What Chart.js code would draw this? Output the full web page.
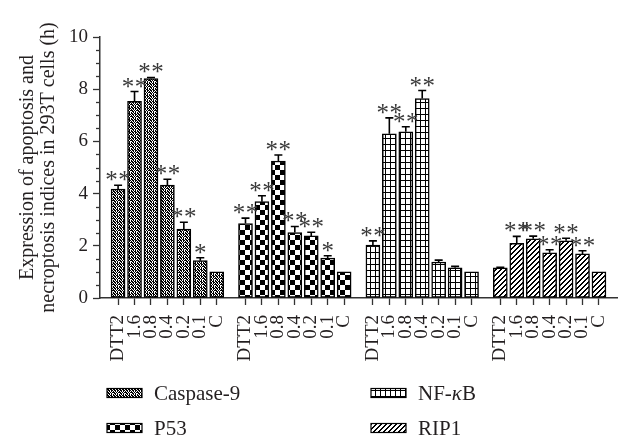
<!DOCTYPE html>
<html>
<head>
<meta charset="utf-8">
<script src="https://cdn.jsdelivr.net/npm/chart.js@4/dist/chart.umd.min.js"></script>
<style>
  html, body { margin: 0; padding: 0; background: #fff; }
  #c { display: block; }
</style>
</head>
<body>
<canvas id="c" width="632" height="436"></canvas>
<script>
// ---- data ----
const categories = ['DTT2', '1.6', '0.8', '0.4', '0.2', '0.1', 'C'];
const seriesNames = ['Caspase-9', 'P53', 'NF-κB', 'RIP1'];

const caspase9    = [4.17, 7.54, 8.41, 4.33, 2.64, 1.43, 1.00];
const caspase9Err = [0.15, 0.37, 0.04, 0.22, 0.26, 0.11, 0];
const caspase9Sig = ['**', '**', '**', '**', '**', '*', ''];

const p53    = [2.85, 3.69, 5.25, 2.51, 2.38, 1.53, 1.00];
const p53Err = [0.21, 0.23, 0.23, 0.23, 0.14, 0.09, 0];
const p53Sig = ['**', '**', '**', '**', '**', '*', ''];

const nfkb    = [2.03, 6.29, 6.37, 7.64, 1.38, 1.16, 1.00];
const nfkbErr = [0.16, 0.61, 0.19, 0.31, 0.07, 0.05, 0];
const nfkbSig = ['**', '**', '**', '**', '', '', ''];

const rip1    = [1.16, 2.09, 2.27, 1.73, 2.19, 1.69, 1.00];
const rip1Err = [0.02, 0.27, 0.10, 0.12, 0.10, 0.12, 0];
const rip1Sig = ['', '**', '**', '**', '**', '**', ''];

const yTicks = [0, 2, 4, 6, 8, 10];

// ---- layout helpers ----
const GROUP_STRIDE = 7.75;
const pos = (g, i) => g * GROUP_STRIDE + i;
const allPositions = [];
for (let g = 0; g < 4; g++) for (let i = 0; i < categories.length; i++) allPositions.push(pos(g, i));

// ---- patterns ----
function makePattern(w, h, draw) {
  const c = document.createElement('canvas');
  c.width = w; c.height = h;
  const x = c.getContext('2d');
  x.fillStyle = '#fff'; x.fillRect(0, 0, w, h);
  x.fillStyle = '#000';
  draw(x);
  return x.createPattern(c, 'repeat');
}
const patCaspase = makePattern(6, 6, x => {
  const m = [
    '##.##.',
    '.#.#.#',
    '#.#.##',
    '##.#..',
    '.#.#.#',
    '#.##.#'];
  m.forEach((row, r) => [...row].forEach((ch, col) => { if (ch === '#') x.fillRect(col, r, 1, 1); }));
});
const patP53 = makePattern(10, 10, x => {
  x.fillRect(0, 0, 5, 5); x.fillRect(5, 5, 5, 5);
});
const patNF = makePattern(5, 6, x => {
  x.fillRect(0, 0, 5, 1); x.fillRect(0, 0, 1, 6);
});
const patRIP = makePattern(5, 5, x => {
  for (let i = 0; i < 5; i++) { x.fillRect(i, 4 - i, 1, 1); x.fillRect(i, (5 - i) % 5, 1, 1); }
});

const seriesValues = [caspase9, p53, nfkb, rip1];
const seriesErr = [caspase9Err, p53Err, nfkbErr, rip1Err];
const seriesSig = [caspase9Sig, p53Sig, nfkbSig, rip1Sig];
const patterns = [patCaspase, patP53, patNF, patRIP];

const datasets = seriesNames.map((name, g) => ({
  label: name,
  data: seriesValues[g].map((v, i) => ({ x: pos(g, i), y: v })),
  errors: seriesErr[g],
  sig: seriesSig[g],
  backgroundColor: patterns[g],
  borderColor: '#000',
  borderWidth: 1.5,
  borderSkipped: false,
  grouped: false,
  barPercentage: 1,
  categoryPercentage: 1,
  maxBarThickness: 14
}));

const TEXT = '#231f20';
const AXIS = '#333';
const SERIF = '"Liberation Serif", "DejaVu Serif", serif';

// ---- plugins ----
const minorTicks = {
  id: 'minorTicks',
  afterDraw(chart) {
    const y = chart.scales.y, ctx = chart.ctx;
    const x0 = chart.chartArea.left;
    ctx.save();
    ctx.strokeStyle = AXIS; ctx.lineWidth = 1.3;
    for (let v = 0.5; v < 10; v += 0.5) {
      if (Math.abs(v % 2) < 1e-9) continue;
      const py = Math.round(y.getPixelForValue(v)) + 0.5;
      ctx.beginPath(); ctx.moveTo(x0 - 4, py); ctx.lineTo(x0, py); ctx.stroke();
    }
    ctx.restore();
  }
};

const errorBars = {
  id: 'errorBars',
  afterDatasetsDraw(chart) {
    const ctx = chart.ctx, yS = chart.scales.y;
    ctx.save();
    ctx.font = '25px ' + SERIF;
    const m = ctx.measureText('*');
    const asc = m.actualBoundingBoxAscent, desc = m.actualBoundingBoxDescent;
    chart.data.datasets.forEach((ds, di) => {
      const meta = chart.getDatasetMeta(di);
      meta.data.forEach((bar, i) => {
        const v = ds.data[i].y, e = ds.errors[i];
        let top = bar.y;
        if (e > 0) {
          top = yS.getPixelForValue(v + e);
          ctx.strokeStyle = '#000'; ctx.lineWidth = 1.6;
          ctx.beginPath();
          ctx.moveTo(bar.x, bar.y); ctx.lineTo(bar.x, top);
          ctx.moveTo(bar.x - 4, top); ctx.lineTo(bar.x + 4, top);
          ctx.stroke();
        }
        const s = ds.sig[i];
        if (s) {
          const cy = top - 9;
          const base = cy + (asc - desc) / 2;
          ctx.fillStyle = '#3a3a3a';
          ctx.textAlign = 'center';
          ctx.textBaseline = 'alphabetic';
          if (s.length === 2) {
            ctx.fillText('*', bar.x - 6.5, base);
            ctx.fillText('*', bar.x + 6.5, base);
          } else {
            ctx.fillText('*', bar.x, base);
          }
        }
      });
    });
    ctx.restore();
  }
};

const customLegend = {
  id: 'customLegend',
  afterDraw(chart) {
    const ctx = chart.ctx;
    const colX = [107, 371];
    const rowY = [393, 428];
    ctx.save();
    chart.data.datasets.forEach((ds, i) => {
      const col = Math.floor(i / 2), row = i % 2;
      const x = colX[col], cy = rowY[row];
      ctx.fillStyle = ds.backgroundColor;
      ctx.fillRect(x, cy - 4.5, 35, 9);
      ctx.strokeStyle = '#000'; ctx.lineWidth = 1.2;
      ctx.strokeRect(x, cy - 4.5, 35, 9);
      ctx.fillStyle = TEXT;
      ctx.textBaseline = 'middle';
      ctx.textAlign = 'left';
      let tx = x + 47;
      for (const ch of ds.label) {
        ctx.font = (ch === 'κ' ? 'italic ' : '') + '21px ' + SERIF;
        ctx.fillText(ch, tx, cy + 1);
        tx += ctx.measureText(ch).width;
      }
    });
    ctx.restore();
  }
};

new Chart(document.getElementById('c'), {
  type: 'bar',
  data: { datasets },
  options: {
    responsive: false,
    animation: false,
    events: [],
    layout: { padding: { left: 0, right: 7, top: 37, bottom: 63 } },
    plugins: { legend: { display: false }, tooltip: { enabled: false } },
    scales: {
      x: {
        type: 'linear',
        offset: false,
        min: -1.1,
        max: 3 * GROUP_STRIDE + 6 + 1.1,
        afterBuildTicks: s => { s.ticks = allPositions.map(v => ({ value: v })); },
        afterFit: s => { s.height = 75; },
        grid: { offset: false, drawOnChartArea: false, drawTicks: true, tickLength: 7, tickColor: AXIS, tickWidth: 1.3 },
        border: { display: true, color: AXIS, width: 1.5 },
        ticks: {
          autoSkip: false, minRotation: 90, maxRotation: 90, padding: 10,
          color: TEXT, font: { family: SERIF, size: 19 },
          callback: (v, i) => categories[i % categories.length]
        }
      },
      y: {
        min: 0, max: 10,
        afterBuildTicks: s => { s.ticks = yTicks.map(v => ({ value: v })); },
        afterFit: s => { s.width = 100; },
        grid: { drawOnChartArea: false, drawTicks: true, tickLength: 7, tickColor: AXIS, tickWidth: 1.3 },
        border: { display: true, color: AXIS, width: 1.5 },
        ticks: { padding: 5, color: TEXT, font: { family: SERIF, size: 19 } },
        title: {
          display: true,
          text: ['Expression of apoptosis and', 'necroptosis indices in 293T cells (h)'],
          color: TEXT,
          font: { family: SERIF, size: 20, lineHeight: 1.05 },
          padding: { top: 17, bottom: 0 }
        }
      }
    }
  },
  plugins: [minorTicks, errorBars, customLegend]
});
</script>
</body>
</html>
